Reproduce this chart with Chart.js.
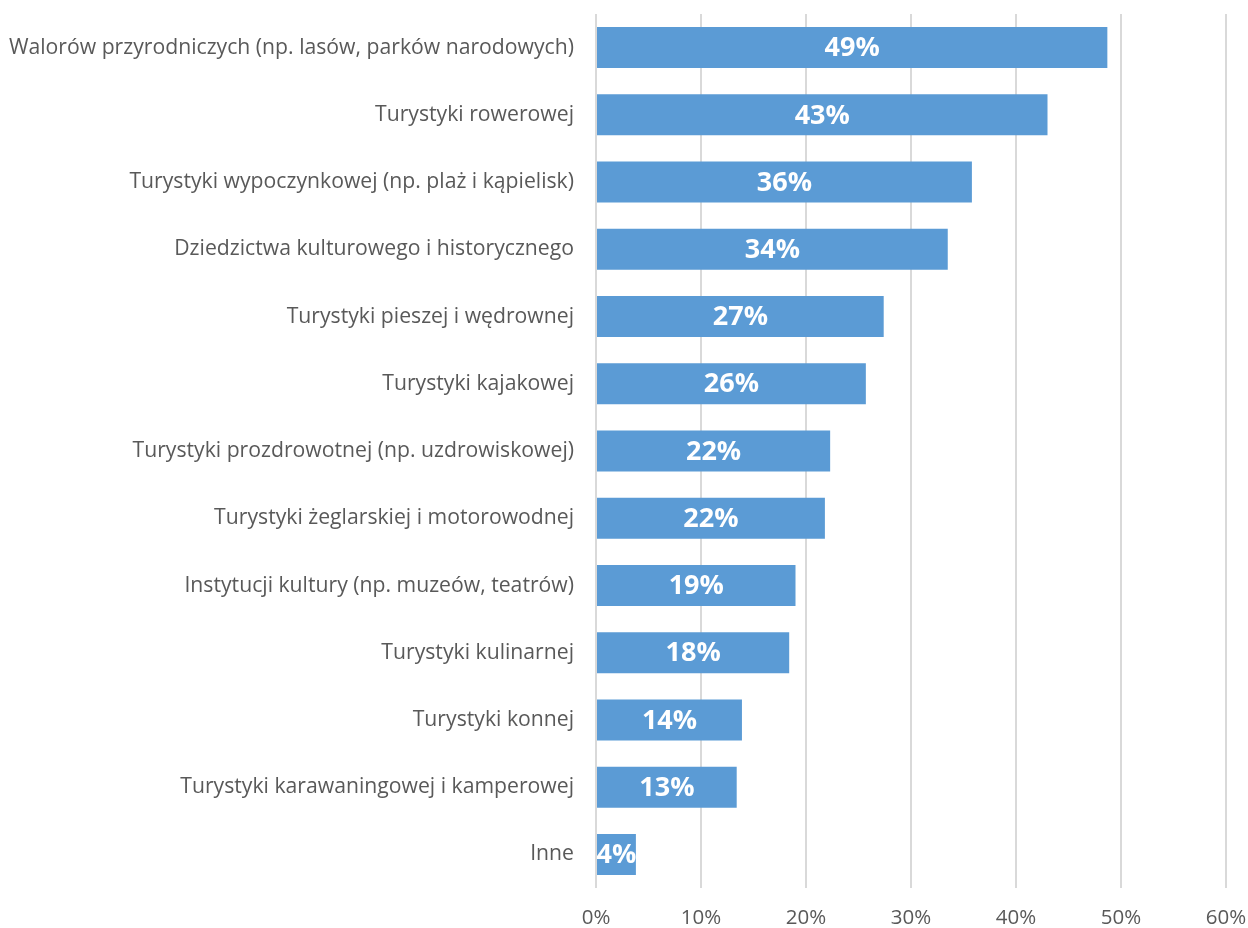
<!DOCTYPE html>
<html lang="pl">
<head>
    <meta charset="UTF-8">
    <script src="https://cdn.jsdelivr.net/npm/chart.js"></script>
    <title>Walory turystyczne</title>
    <style>
        html, body { margin: 0; padding: 0; background: #fff; }
        #wrap { width: 1248px; height: 928px; }
    </style>
</head>
<body>
    <div id="wrap"><canvas id="bar-chart" width="1248" height="928"></canvas></div>

    <script>
        const categories = [
            'Walorów przyrodniczych (np. lasów, parków narodowych)',
            'Turystyki rowerowej',
            'Turystyki wypoczynkowej (np. plaż i kąpielisk)',
            'Dziedzictwa kulturowego i historycznego',
            'Turystyki pieszej i wędrownej',
            'Turystyki kajakowej',
            'Turystyki prozdrowotnej (np. uzdrowiskowej)',
            'Turystyki żeglarskiej i motorowodnej',
            'Instytucji kultury (np. muzeów, teatrów)',
            'Turystyki kulinarnej',
            'Turystyki konnej',
            'Turystyki karawaningowej i kamperowej',
            'Inne'
        ];
        const values = [48.7, 43.0, 35.8, 33.5, 27.4, 25.7, 22.3, 21.8, 19.0, 18.4, 13.9, 13.4, 3.8];
        const tickLabels = ['0%', '10%', '20%', '30%', '40%', '50%', '60%'];

        const textColor = '#595959';
        const labelFont = '"Open Sans", Lato, sans-serif';

        // white bold value labels in the middle of each bar
        const barLabels = {
            id: 'barLabels',
            afterDatasetsDraw(chart) {
                const ctx = chart.ctx;
                const meta = chart.getDatasetMeta(0);
                ctx.save();
                ctx.fillStyle = '#ffffff';
                ctx.font = 'bold 27px ' + labelFont;
                ctx.textAlign = 'center';
                ctx.textBaseline = 'middle';
                meta.data.forEach((bar, i) => {
                    const x = (bar.x + bar.base) / 2;
                    ctx.fillText(Math.round(values[i]) + '%', x, bar.y + 1);
                });
                ctx.restore();
            }
        };

        const ctx = document.getElementById('bar-chart').getContext('2d');
        new Chart(ctx, {
            type: 'bar',
            data: {
                labels: categories,
                datasets: [{
                    data: values,
                    backgroundColor: '#5B9BD5',
                    barPercentage: 0.61,
                    categoryPercentage: 1
                }]
            },
            options: {
                indexAxis: 'y',
                responsive: false,
                animation: false,
                layout: { padding: { top: 14, right: 22, left: 0, bottom: 0 } },
                plugins: {
                    legend: { display: false },
                    tooltip: { enabled: false }
                },
                scales: {
                    x: {
                        min: 0,
                        max: 60,
                        ticks: {
                            stepSize: 10,
                            color: textColor,
                            font: { family: labelFont, size: 20.5 },
                            padding: 18,
                            callback: (v, i) => tickLabels[i]
                        },
                        grid: { color: '#D9D9D9', lineWidth: 2, drawTicks: false },
                        border: { display: false },
                        afterFit(scale) {
                            scale.height = 40;
                            scale.paddingLeft = 0;
                            scale.paddingRight = 0;
                        }
                    },
                    y: {
                        ticks: {
                            color: textColor,
                            font: { family: labelFont, size: 21.2 },
                            padding: 22
                        },
                        grid: { display: false, drawTicks: false },
                        border: { display: false },
                        afterFit(scale) {
                            scale.width = 596;
                            scale.paddingTop = 0;
                            scale.paddingBottom = 0;
                        }
                    }
                }
            },
            plugins: [barLabels]
        });
    </script>
</body>
</html>
